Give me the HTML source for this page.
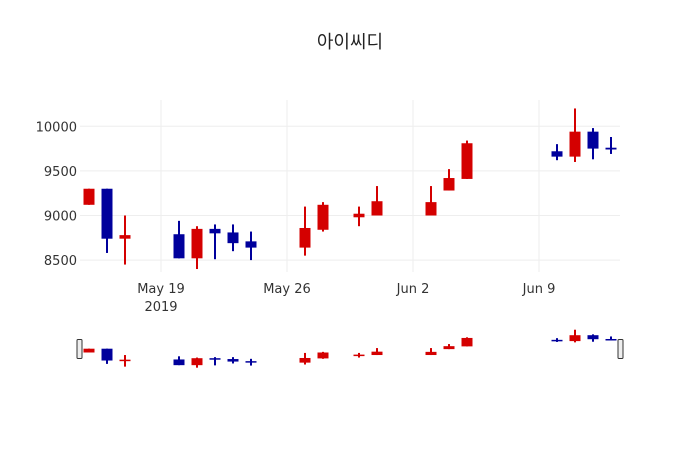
<!DOCTYPE html>
<html><head><meta charset="utf-8"><style>
body{margin:0;background:#fff}
svg{display:block;font-family:"DejaVu Sans","Liberation Sans","Noto Sans CJK KR",sans-serif}
</style></head><body>
<svg id="chart" width="700" height="450">
<text x="350" y="48" text-anchor="middle" font-size="18" fill="#222" font-family="'DejaVu Sans','Noto Sans CJK KR',sans-serif">아이씨디</text>
<g id="grid"></g>
<g id="marks"></g>
<g id="slider"></g>
</svg>
<script>
const dates=["2019-05-15","2019-05-16","2019-05-17","2019-05-20","2019-05-21","2019-05-22","2019-05-23","2019-05-24","2019-05-27","2019-05-28","2019-05-30","2019-05-31","2019-06-03","2019-06-04","2019-06-05","2019-06-10","2019-06-11","2019-06-12","2019-06-13"];
const opens=[9120,9300,8740,8790,8520,8850,8810,8710,8640,8840,8980,9000,9000,9280,9410,9720,9660,9940,9760];
const highs=[9300,9300,9000,8940,8880,8900,8900,8820,9100,9150,9100,9330,9330,9520,9840,9800,10200,9980,9880];
const lows=[9120,8580,8450,8520,8400,8510,8600,8500,8550,8820,8880,9000,9000,9280,9410,9620,9600,9630,9690];
const closes=[9300,8740,8780,8520,8850,8800,8690,8640,8860,9120,9020,9160,9150,9420,9810,9660,9940,9750,9740];
const yTicks=[8500,9000,9500,10000];
const xTickDates=["2019-05-19","2019-05-26","2019-06-02","2019-06-09"];
const xTickLabels=["May 19","May 26","Jun 2","Jun 9"];

const NS="http://www.w3.org/2000/svg";
const DAY=86400000;
const t0=Date.parse("2019-05-19");
function x(d){return 161+(Date.parse(d)-t0)/DAY*18;}
function y(v){return 126.3+(10000-v)*0.0892;}
function ys(v){return 348.7+(9300-v)*0.0211;}
function mk(tag,attrs,parent){const e=document.createElementNS(NS,tag);for(const k in attrs)e.setAttribute(k,attrs[k]);parent.appendChild(e);return e;}
const grid=document.getElementById('grid'),marks=document.getElementById('marks'),slider=document.getElementById('slider');
yTicks.forEach(v=>{
  const l=mk('line',{x1:80,x2:620,y1:y(v),y2:y(v),stroke:'#eee','stroke-width':1},grid);
  
  
  const t=mk('text',{x:77,y:y(v)+5,'text-anchor':'end','font-size':13,fill:'#333'},grid);
  t.textContent=v;
  
  
});
xTickDates.forEach((d,i)=>{
  const l=mk('line',{x1:x(d),x2:x(d),y1:100,y2:272,stroke:'#eee','stroke-width':1},grid);
  
  
  const t=mk('text',{x:x(d),y:293,'text-anchor':'middle','font-size':13,fill:'#333'},grid);
  t.textContent=xTickLabels[i];
  
  
});
const yr=mk('text',{x:x(xTickDates[0]),y:311,'text-anchor':'middle','font-size':13,fill:'#333'},grid);
yr.textContent="2019";


function candle(parent,i,yf,bw,ww){
  const up=closes[i]>=opens[i];const c=up?'#d40000':'#00009c';
  const cx=x(dates[i]);
  const g=mk('g',{},parent);
  
  
  mk('line',{x1:cx,x2:cx,y1:yf(highs[i]),y2:yf(lows[i]),stroke:c,'stroke-width':ww},g);
  const top=yf(Math.max(opens[i],closes[i])),bot=yf(Math.min(opens[i],closes[i]));
  mk('rect',{x:cx-bw/2,y:top,width:bw,height:Math.max(bot-top,1.5),fill:c},g);
}
for(let i=0;i<dates.length;i++){candle(marks,i,y,11,2);candle(slider,i,ys,11,2);}
[79.5,620.5].forEach((hx,i)=>{
  const h=mk('rect',{x:hx-2.5,y:339.5,width:5,height:19,rx:1,fill:'#eee',stroke:'#333','stroke-width':1},slider);
  
  
});
</script>
</body></html>
